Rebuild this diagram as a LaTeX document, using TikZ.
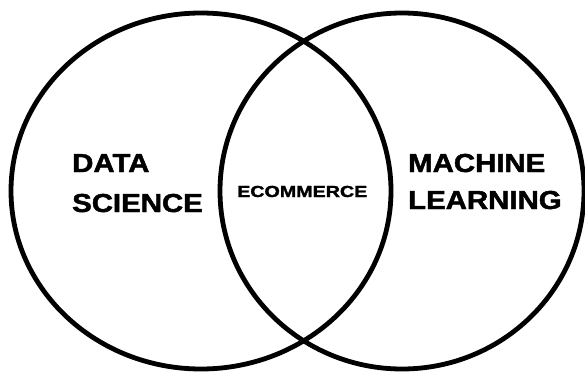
\documentclass[tikz,border=0pt]{standalone}
\usepackage{fontspec}
\setmainfont{Liberation Sans}
\newfontfamily\heavyfont[FakeBold=1.6]{Liberation Sans Bold}
\begin{document}
\begin{tikzpicture}[x=1pt, y=-1pt,
  ring/.style={draw=black, line width=4.8pt},
  biglabel/.style={anchor=base west, inner sep=0pt, font=\fontsize{26}{26}\heavyfont},
  smalllabel/.style={anchor=base west, inner sep=0pt, font=\fontsize{16}{16}\heavyfont}]
  \useasboundingbox[fill=white] (0,0) rectangle (585,374);
  % the two sets
  \draw[ring] (201,191) ellipse [x radius=190pt, y radius=178pt];
  \draw[ring] (402,191) ellipse [x radius=182pt, y radius=178pt];
  % set labels
  \node[biglabel] (data) at (72,172) {\scalebox{1.13}[1]{DATA}};
  \node[biglabel] (science) at (72,212) {\scalebox{1.13}[1]{SCIENCE}};
  \node[biglabel] (machine) at (408,172) {\scalebox{1.13}[1]{MACHINE}};
  \node[biglabel] (learning) at (408,209) {\scalebox{1.13}[1]{LEARNING}};
  % intersection label
  \node[smalllabel] (ecom) at (237,197) {\scalebox{1.23}[1]{ECOMMERCE}};
\end{tikzpicture}
\end{document}
